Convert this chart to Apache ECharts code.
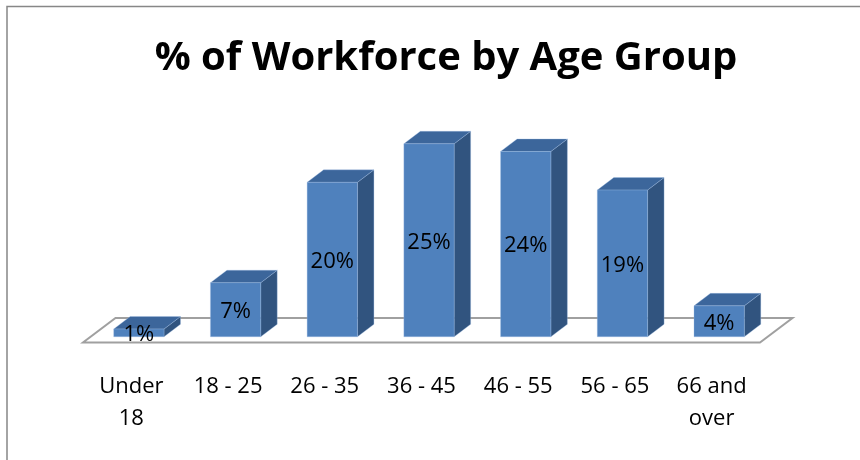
<!DOCTYPE html>
<html>
<head>
<meta charset="utf-8">
<script src="https://cdn.jsdelivr.net/npm/echarts@6/dist/echarts.min.js"></script>
<style>
html,body{margin:0;padding:0;background:#fff;}
#main{width:860px;height:460px;}
</style>
</head>
<body>
<div id="main"></div>
<script>
const titleText = '% of Workforce by Age Group';
const categories = ['Under\n18', '18 - 25', '26 - 35', '36 - 45', '46 - 55', '56 - 65', '66 and\nover'];
const values = [1, 7, 20, 25, 24, 19, 4];
const valueLabels = ['1%', '7%', '20%', '25%', '24%', '19%', '4%'];

const FONT = '"Open Sans", "Noto Sans", sans-serif';
const chart = echarts.init(document.getElementById('main'));

// 3D geometry (style only)
const FLOOR_DX = 32.5, FLOOR_DY = -24.5;
const BAR_DX = 16.5, BAR_DY = -12.5;
const BAR_OX = 7.5, BAR_OY = -5.75;
const BAR_RATIO = 0.52;

function renderFloor(params, api) {
  const band = api.size([1, 0])[0];
  const p0 = api.coord([0, 0]);
  const pN = api.coord([categories.length - 1, 0]);
  const l = p0[0] - band / 2, r = pN[0] + band / 2, y = p0[1];
  return {
    type: 'polygon',
    shape: { points: [[l, y], [r, y], [r + FLOOR_DX, y + FLOOR_DY], [l + FLOOR_DX, y + FLOOR_DY]] },
    style: { fill: '#ffffff', stroke: '#a0a0a0', lineWidth: 2 }
  };
}

function renderBar(params, api) {
  const i = api.value(0), v = api.value(1);
  const band = api.size([1, 0])[0];
  const bw = band * BAR_RATIO;
  const pb = api.coord([i, 0]);
  const pt = api.coord([i, v]);
  const x0 = pb[0] - bw / 2 + BAR_OX, x1 = x0 + bw;
  const yb = pb[1] + BAR_OY, yt = pt[1] + BAR_OY;
  const edge = 'rgba(160,190,230,0.55)';
  return {
    type: 'group',
    children: [
      { type: 'polygon', shape: { points: [[x1, yb], [x1 + BAR_DX, yb + BAR_DY], [x1 + BAR_DX, yt + BAR_DY], [x1, yt]] },
        style: { fill: '#31547F', stroke: edge, lineWidth: 0.6 } },
      { type: 'polygon', shape: { points: [[x0, yt], [x1, yt], [x1 + BAR_DX, yt + BAR_DY], [x0 + BAR_DX, yt + BAR_DY]] },
        style: { fill: '#3C669B', stroke: edge, lineWidth: 0.6 } },
      { type: 'rect', shape: { x: x0, y: yt, width: bw, height: yb - yt },
        style: { fill: '#4F81BD', stroke: edge, lineWidth: 0.6 } },
      { type: 'text', x: (x0 + x1) / 2, y: (yt + yb) / 2 + 2,
        style: { text: valueLabels[i], fill: '#000', font: '22px ' + FONT, align: 'center', verticalAlign: 'middle' } }
    ]
  };
}

chart.setOption({
  animation: false,
  backgroundColor: '#fff',
  title: {
    text: titleText, left: 441, top: 34, textAlign: 'center',
    textStyle: { fontFamily: FONT, fontWeight: 'bold', fontSize: 40, color: '#000' }
  },
  graphic: [{
    type: 'rect', shape: { x: 7, y: 6.5, width: 900, height: 500 },
    style: { fill: 'none', stroke: '#878787', lineWidth: 1.5 }, silent: true
  }],
  grid: { left: 83, right: 100, top: 110.9, bottom: 117.5 },
  xAxis: {
    type: 'category', data: categories,
    axisLine: { show: false }, axisTick: { show: false },
    axisLabel: { interval: 0, fontFamily: FONT, fontSize: 22, lineHeight: 32, color: '#000', margin: 28 }
  },
  yAxis: { type: 'value', min: 0, max: 30, show: false, splitLine: { show: false } },
  series: [
    { type: 'custom', renderItem: renderFloor, data: [[0, 0]], z: 1, silent: true },
    { type: 'custom', renderItem: renderBar, data: values.map((v, i) => [i, v]), z: 2,
      encode: { x: 0, y: 1 } }
  ]
});
</script>
</body>
</html>
